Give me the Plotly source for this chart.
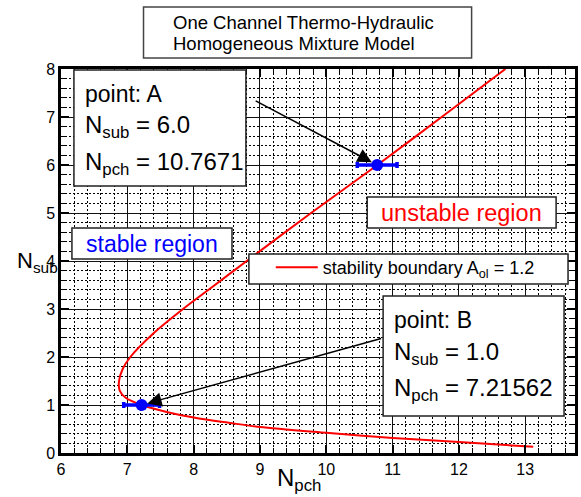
import plotly.graph_objects as go

# Stability boundary (A_ol = 1.2) of the one-channel homogeneous mixture model
n_pch = [12.70, 11.74, 10.77, 9.77, 8.80, 8.32, 7.84, 7.40, 7.045, 6.93,
         6.875, 6.885, 6.975, 7.216, 7.58, 8.08, 8.53, 9.00, 10.0, 11.0,
         12.0, 13.12]
n_sub = [8.0, 7.0, 6.0, 5.0, 4.0, 3.5, 3.0, 2.5, 2.0, 1.75,
         1.5, 1.3, 1.15, 1.0, 0.86, 0.72, 0.63, 0.54, 0.42, 0.31,
         0.23, 0.13]

# Marked operating points
point_names = ["A", "B"]
point_npch = [10.7671, 7.21562]
point_nsub = [6.0, 1.0]
point_spread = [0.30, 0.27]

x_ticks = [6, 7, 8, 9, 10, 11, 12, 13]
y_ticks = [0, 1, 2, 3, 4, 5, 6, 7, 8]

FONT = "Liberation Sans, Arial, sans-serif"
W, H = 581, 497
L, R, T, B = 61, 3, 69, 44
PW, PH = W - L - R, H - T - B


def px(X):
    return (X - L) / PW


def py(Y):
    return (H - B - Y) / PH


fig = go.Figure()

fig.add_trace(go.Scatter(
    x=n_pch, y=n_sub, mode="lines",
    line=dict(color="#ff0000", width=2, shape="spline", smoothing=0.8),
    name="stability boundary A<sub>ol</sub> = 1.2",
    showlegend=True,
))

fig.add_trace(go.Scatter(
    x=point_npch, y=point_nsub, mode="markers",
    marker=dict(color="#0000ff", size=12),
    error_x=dict(type="data", array=point_spread, color="#0000ff",
                 thickness=3.5, width=3),
    showlegend=False,
))

shapes = []
annotations = []


def box(x0, y0, x1, y1, color="#222222", width=1.5):
    shapes.append(dict(type="rect", xref="paper", yref="paper",
                       x0=px(x0), x1=px(x1), y0=py(y1), y1=py(y0),
                       line=dict(color=color, width=width),
                       fillcolor="white", layer="above"))


def label(text, X, Y, size, color="black", xanchor="left"):
    annotations.append(dict(text=text, xref="paper", yref="paper",
                            x=px(X), y=py(Y), xanchor=xanchor,
                            yanchor="middle", showarrow=False,
                            font=dict(family=FONT, size=size, color=color)))


# model title box above the plot
box(144, 7, 474, 58, color="#444444")
label("One Channel Thermo-Hydraulic", 172, 22, 18.5)
label("Homogeneous Mixture Model", 172, 44, 18.5)

# region labels
box(72, 228, 233, 259)
label("stable region", 152.5, 244, 23, color="#0000ff", xanchor="center")
box(369, 197, 559, 228)
label("unstable region", 464, 213, 23.5, color="#ff0000", xanchor="center")

# legend frame
box(250, 254, 571, 284)

# point boxes
box_tops = [70, 296]
box_lefts = [74, 385]
box_rights = [247, 567]
box_bottoms = [186, 416]
arrow_tail = [(-123, -65), (241, -67)]
for i, name in enumerate(point_names):
    top, left = box_tops[i], box_lefts[i]
    box(left, top, box_rights[i], box_bottoms[i])
    label(f"point: {name}", left + 9, top + 24, 23)
    label(f"N<sub>sub</sub> = {point_nsub[i]:.1f}", left + 9, top + 57, 24)
    label(f"N<sub>pch</sub> = {point_npch[i]}", left + 9, top + 93, 24)
    annotations.append(dict(
        x=point_npch[i], y=point_nsub[i], xref="x", yref="y",
        ax=arrow_tail[i][0], ay=arrow_tail[i][1],
        text="", showarrow=True, arrowhead=2, arrowsize=1.9,
        arrowwidth=1.5, arrowcolor="black", standoff=6,
    ))

# axis titles
label("N<sub>sub</sub>", 15, 262, 22)
label("N<sub>pch</sub>", 276, 479, 24)

axis_common = dict(
    showline=True, linecolor="black", linewidth=2.5, mirror="allticks",
    ticks="inside", ticklen=8, tickwidth=1.5, tickcolor="black",
    showgrid=True, gridcolor="#111111", gridwidth=1, zeroline=False,
    tickfont=dict(family=FONT, size=16, color="black"),
    minor=dict(dtick=0.2, ticks="inside", ticklen=5, tickwidth=1,
               tickcolor="black", showgrid=True, gridcolor="#000000",
               gridwidth=1, griddash="2px,2px"),
)

fig.update_xaxes(range=[6, 13.75], tickvals=x_ticks, **axis_common)
fig.update_yaxes(range=[0, 8], tickvals=y_ticks, **axis_common)

fig.update_layout(
    width=W, height=H,
    margin=dict(l=L, r=R, t=T, b=B, pad=0),
    paper_bgcolor="white", plot_bgcolor="white",
    font=dict(family=FONT, color="black"),
    shapes=shapes, annotations=annotations,
    legend=dict(x=px(272), y=py(249), xanchor="left", yanchor="top",
                bgcolor="rgba(0,0,0,0)", borderwidth=0,
                font=dict(family=FONT, size=18, color="black"),
                itemwidth=42),
)

fig.write_html("out.html")
